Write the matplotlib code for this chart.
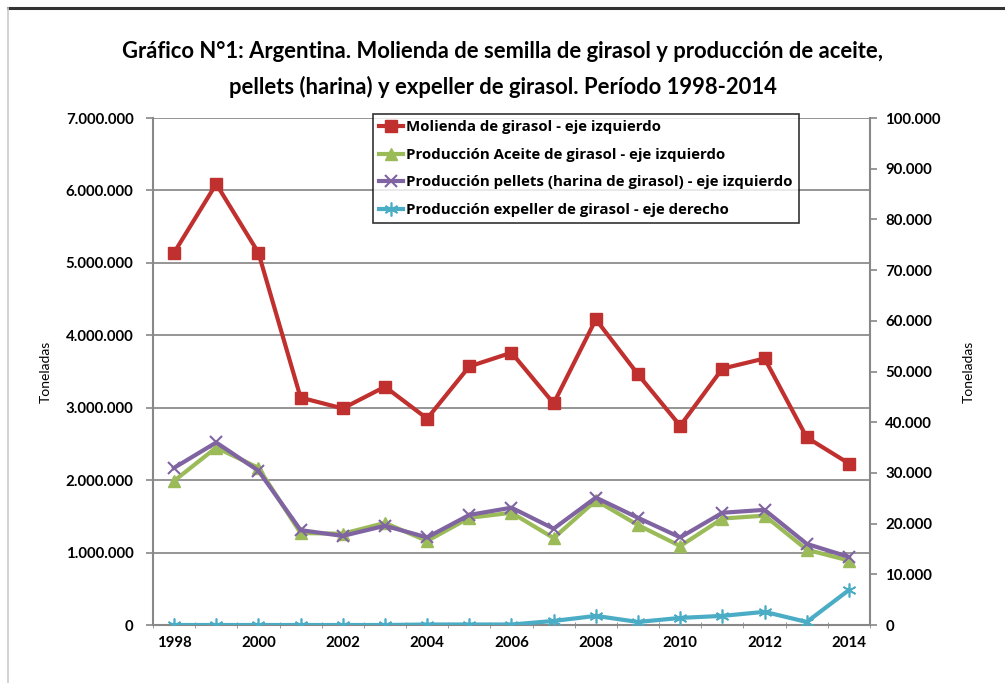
import numpy as np
import matplotlib
matplotlib.use("Agg")
import matplotlib.pyplot as plt
from matplotlib.ticker import FuncFormatter, FixedLocator

plt.rcParams['font.family'] = ['Lato', 'DejaVu Sans']

years = list(range(1998, 2015))
molienda = [5140000, 6090000, 5140000, 3140000, 2990000, 3290000, 2850000, 3570000,
            3760000, 3060000, 4220000, 3460000, 2750000, 3540000, 3680000, 2590000, 2230000]
aceite = [1990000, 2450000, 2170000, 1270000, 1260000, 1410000, 1160000, 1480000,
          1550000, 1200000, 1720000, 1380000, 1090000, 1470000, 1510000, 1040000, 890000]
pellets = [2170000, 2520000, 2130000, 1310000, 1230000, 1370000, 1210000, 1520000,
           1620000, 1330000, 1760000, 1480000, 1210000, 1550000, 1590000, 1120000, 940000]
expeller = [0, 0, 0, 0, 0, 0, 100, 100, 100, 800, 1800, 600, 1400, 1800, 2600, 600, 6900]

labels = ["Molienda de girasol - eje izquierdo",
          "Producción Aceite de girasol - eje izquierdo",
          "Producción pellets (harina de girasol) - eje izquierdo",
          "Producción expeller de girasol - eje derecho"]
title = ("Gráfico N°1: Argentina. Molienda de semilla de girasol y producción de aceite,\n"
         "pellets (harina) y expeller de girasol. Período 1998-2014")

c_red, c_green, c_purple, c_cyan = '#C0302E', '#9BBB59', '#8064A2', '#4BACC6'

def miles(v, pos):
    return f"{int(round(v)):,}".replace(",", ".")

fig = plt.figure(figsize=(10.05, 6.83), dpi=100)
ax = fig.add_axes([0.1522, 0.0849, 0.7135, 0.7423])
ax2 = ax.twinx()

x = np.arange(len(years))
l1, = ax.plot(x, molienda, color=c_red, lw=3, marker='s', ms=8, label=labels[0])
l2, = ax.plot(x, aceite, color=c_green, lw=3, marker='^', ms=8, label=labels[1])
l3, = ax.plot(x, pellets, color=c_purple, lw=3, marker='x', ms=9, mew=1.5, label=labels[2])
l4, = ax2.plot(x, expeller, color=c_cyan, lw=3, marker=(6, 2, 0), ms=10, mew=1.2, label=labels[3])

ax.set_xlim(-0.5, len(years) - 0.5)
ax.set_ylim(0, 7000000)
ax.set_yticks(np.arange(0, 7000001, 1000000))
ax2.set_ylim(0, 100000)
ax2.set_yticks(np.arange(0, 100001, 10000))
ax.yaxis.set_major_formatter(FuncFormatter(miles))
ax2.yaxis.set_major_formatter(FuncFormatter(miles))

ax.set_xticks(x[::2])
ax.set_xticklabels([str(y) for y in years[::2]])
ax.xaxis.set_minor_locator(FixedLocator(np.arange(-0.5, len(years), 1)))
ax.tick_params(axis='x', which='major', length=0, pad=8)
ax.tick_params(axis='x', which='minor', length=5, color='#888888', direction='inout')

for a in (ax, ax2):
    a.tick_params(axis='y', length=5, color='#888888', width=1.2)
    a.tick_params(labelsize=10.8)
    for lab in a.get_yticklabels() + a.get_xticklabels():
        lab.set_fontweight('bold')
    for s in a.spines.values():
        s.set_visible(False)
ax.spines['left'].set_visible(True)
ax.spines['bottom'].set_visible(True)
ax2.spines['right'].set_visible(True)
for s in (ax.spines['left'], ax.spines['bottom'], ax2.spines['right']):
    s.set_color('#888888')
    s.set_linewidth(1.5)
ax.tick_params(axis='y', pad=9)
ax2.tick_params(axis='y', pad=6)

ax.yaxis.grid(True, color='#8c8c8c', lw=1.3)
ax.set_axisbelow(True)

ax.set_ylabel("Toneladas", fontsize=10, labelpad=10)
ax2.set_ylabel("Toneladas", fontsize=10, rotation=90, labelpad=16)

fig.suptitle(title, x=0.5, y=0.94, fontsize=15.8, fontweight='bold', linespacing=1.75)

leg = ax.legend(handles=[l1, l2, l3, l4], loc='upper left', bbox_to_anchor=(0.307, 1.007),
                prop={'weight': 'bold', 'size': 10.8, 'family': ['Open Sans', 'DejaVu Sans']},
                frameon=True, fancybox=False,
                handlelength=1.6, handletextpad=0.2, borderpad=0.4, labelspacing=0.9,
                borderaxespad=0)
leg.get_frame().set_edgecolor('black')
leg.get_frame().set_linewidth(1.2)
leg.set_zorder(5)

# chart border lines
fig.add_artist(plt.Line2D([0.008, 1.0], [0.988, 0.988], color='#333333', lw=2.2))
fig.add_artist(plt.Line2D([0.008, 0.008], [0.0, 0.988], color='#cccccc', lw=1.2))

fig.savefig("out.png", dpi=100)
